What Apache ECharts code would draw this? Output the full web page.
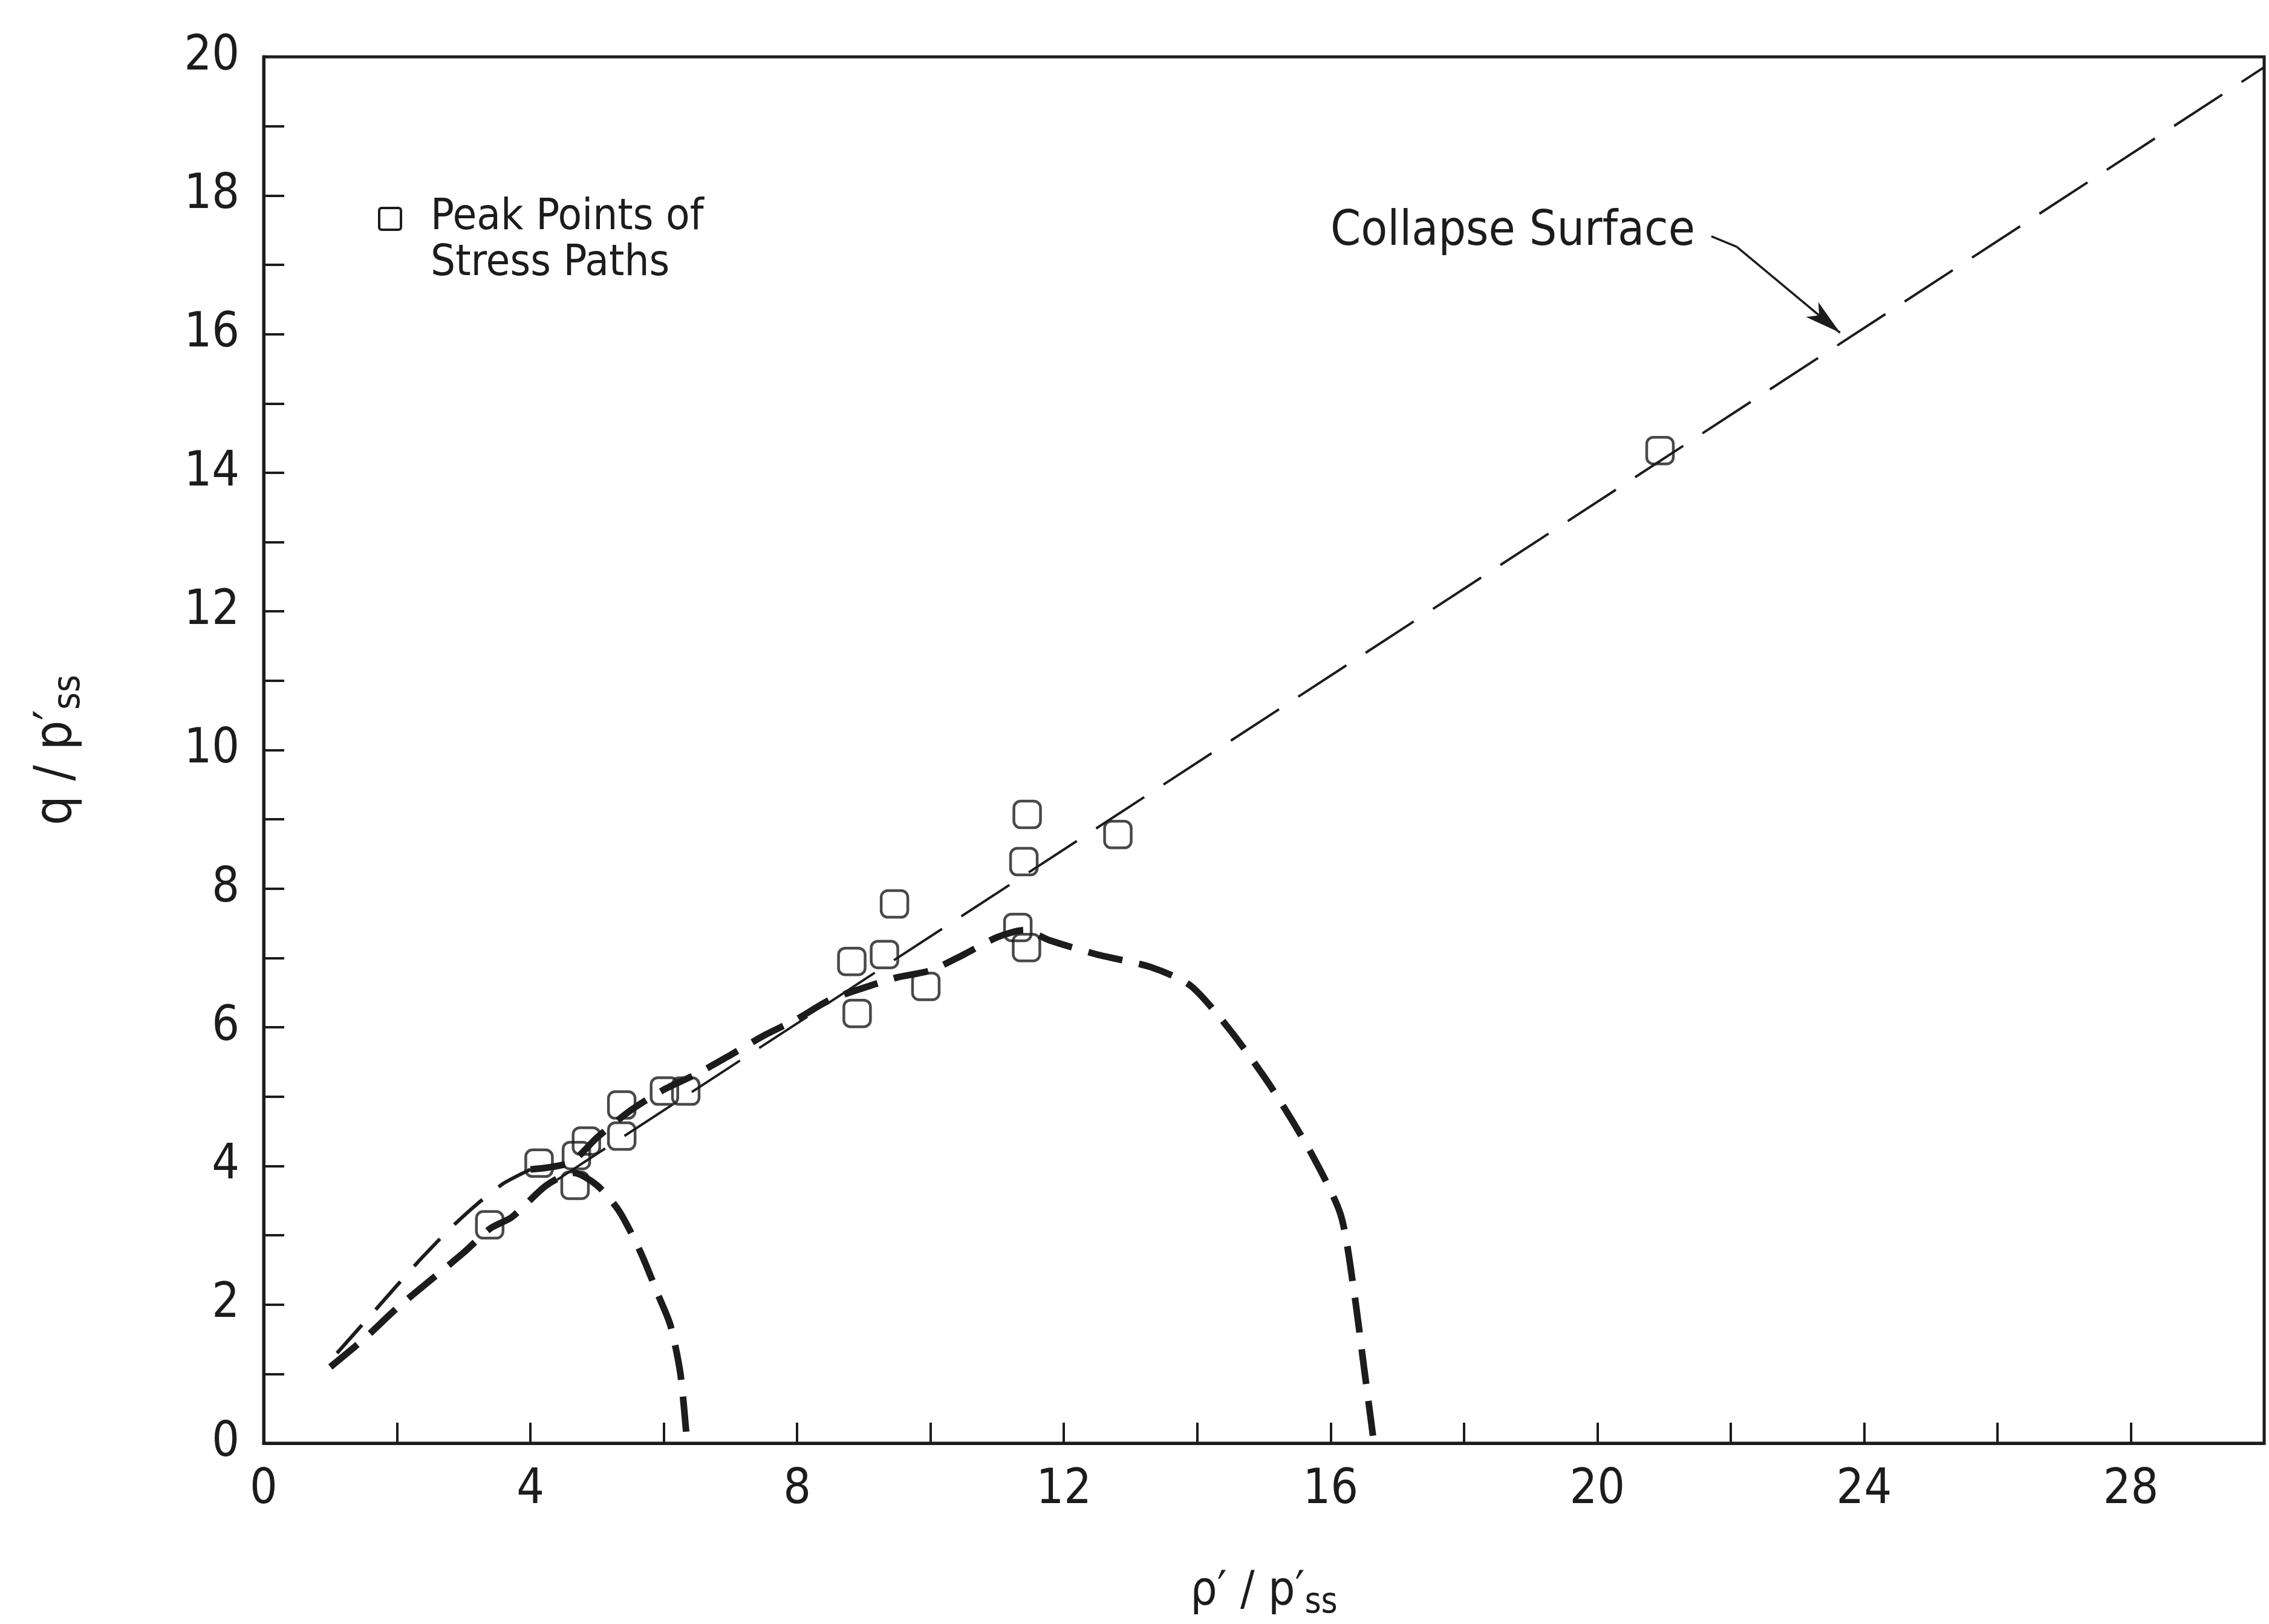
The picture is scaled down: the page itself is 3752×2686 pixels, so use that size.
<!DOCTYPE html>
<html>
<head>
<meta charset="utf-8">
<script src="https://cdn.jsdelivr.net/npm/echarts@6/dist/echarts.min.js"></script>
<style>
html,body{margin:0;padding:0;background:#fff;}
#c{width:3752px;height:2686px;}
</style>
</head>
<body>
<div id="c"></div>
<script>
// ---- data ----
const peakPoints = [
  [3.39,3.15],[4.13,4.04],[4.67,3.72],[4.69,4.15],[4.84,4.36],
  [5.37,4.88],[5.37,4.43],[6.01,5.08],[6.33,5.08],
  [8.82,6.95],[9.31,7.05],[8.90,6.20],[9.46,7.78],[9.93,6.59],
  [11.31,7.44],[11.44,7.15],[11.40,8.39],[11.45,9.07],[12.81,8.78],
  [20.94,14.32]
];
const collapseSurface = [[4.4,3.80],[30.0,19.85]];
const pathA = [
  [1.0,1.1],[1.5,1.5],[2.0,1.95],[2.5,2.35],[3.0,2.75],[3.4,3.1],
  [3.72,3.26],[4.24,3.72],[4.65,3.9],[5.0,3.72],[5.33,3.35],[5.65,2.76],
  [5.92,2.13],[6.1,1.7],[6.25,1.0],[6.35,0]
];
const pathBRise = [
  [1.1,1.3],[1.7,1.95],[2.3,2.6],[2.8,3.1],[3.2,3.45],[3.6,3.75],[4.0,3.95]
];
const pathB = [
  [4.0,3.95],[4.6,4.05],[5.0,4.41],[5.5,4.8],[6.0,5.1],[6.5,5.33],[7.0,5.6],
  [7.5,5.88],[8.0,6.12],[8.5,6.4],[9.0,6.57],[9.5,6.72],[10.0,6.82],
  [10.5,7.05],[11.0,7.3],[11.4,7.4],[11.8,7.25],[12.5,7.05],[13.3,6.87],
  [13.9,6.6],[14.5,5.95],[15.1,5.15],[15.7,4.2],[16.15,3.3],[16.35,2.2],
  [16.5,1.1],[16.65,0]
];
const arrowPath = [[21.71,17.41],[22.09,17.26],[23.64,16.02]];
const xTickLabels = [0,4,8,12,16,20,24,28];
const yTickLabels = [0,2,4,6,8,10,12,14,16,18,20];
const legendText = ['Peak Points of','Stress Paths'];
const annotationText = 'Collapse Surface';

const INK = '#1c1c1c';
const FONT = "'DejaVu Sans Condensed','Liberation Sans Narrow','DejaVu Sans',sans-serif";

const chart = echarts.init(document.getElementById('c'), null, {renderer:'canvas'});
const option = {
  backgroundColor:'#ffffff',
  animation:false,
  grid:{left:436, right:8, top:94, bottom:284, show:true, borderColor:INK, borderWidth:5, backgroundColor:'transparent'},
  xAxis:{
    type:'value', min:0, max:30, interval:2,
    axisLine:{show:true, lineStyle:{color:INK, width:5}},
    axisTick:{show:true, inside:true, length:34, lineStyle:{color:INK, width:4}},
    axisLabel:{show:true, margin:38, fontSize:80, color:INK, fontFamily:FONT,
      formatter:v => xTickLabels.includes(v) ? String(v) : ''},
    splitLine:{show:false},
    name:'{a|ρ′ / p′}{s|ss}', nameLocation:'middle', nameGap:200,
    nameTextStyle:{rich:{
      a:{fontSize:78, color:INK, fontFamily:FONT},
      s:{fontSize:58, color:INK, fontFamily:FONT, padding:[36,0,0,0]}
    }}
  },
  yAxis:{
    type:'value', min:0, max:20, interval:1,
    axisLine:{show:true, lineStyle:{color:INK, width:5}},
    axisTick:{show:true, inside:true, length:34, lineStyle:{color:INK, width:4}},
    axisLabel:{show:true, margin:40, fontSize:80, color:INK, fontFamily:FONT,
      formatter:v => yTickLabels.includes(v) ? String(v) : ''},
    splitLine:{show:false},
    name:'{a|q / p′}{s|ss}', nameLocation:'middle', nameGap:290, nameRotate:90,
    nameTextStyle:{rich:{
      a:{fontSize:86, color:INK, fontFamily:FONT},
      s:{fontSize:62, color:INK, fontFamily:FONT, padding:[40,0,0,0]}
    }}
  },
  series:[
    {
      name:'Collapse Surface', type:'line', data:collapseSurface, symbol:'none',
      lineStyle:{color:INK, width:4, type:[95,38]}, z:3, silent:true,
      markLine:{
        silent:true, symbol:['none','none'], label:{show:false},
        lineStyle:{color:INK, width:3.5, type:'solid'},
        data:[
          [{coord:arrowPath[0], symbol:'none'},{coord:arrowPath[1], symbol:'none'}],
          [{coord:arrowPath[1], symbol:'none'},{coord:arrowPath[2], symbol:'arrow', symbolSize:[24,60]}]
        ]
      }
    },
    {
      name:'Stress Path 1', type:'line', data:pathA, symbol:'none', smooth:0.25,
      lineStyle:{color:INK, width:11, type:[58,28]}, z:4, silent:true
    },
    {
      name:'Stress Path 2 (rise)', type:'line', data:pathBRise, symbol:'none', smooth:0.2,
      lineStyle:{color:INK, width:6, type:[62,34]}, z:4, silent:true
    },
    {
      name:'Stress Path 2', type:'line', data:pathB, symbol:'none', smooth:0.25,
      lineStyle:{color:INK, width:11, type:[58,28]}, z:4, silent:true
    },
    {
      name:'Peak Points of Stress Paths', type:'scatter', data:peakPoints,
      symbol:'roundRect', symbolSize:44,
      itemStyle:{color:'rgba(255,255,255,0)', borderColor:INK, borderWidth:4.5},
      z:5, silent:true
    }
  ],
  graphic:[
    {type:'rect', left:625, top:342, shape:{width:36, height:36, r:4},
      style:{fill:'transparent', stroke:INK, lineWidth:4}},
    {type:'text', left:712, top:322, style:{text:legendText.join('\n'), fontSize:72, lineHeight:76, fill:INK, fontFamily:FONT}},
    {type:'text', left:2200, top:344, style:{text:annotationText, fill:INK, fontSize:80, fontFamily:FONT}}
  ]
};
chart.setOption(option);
</script>
</body>
</html>
